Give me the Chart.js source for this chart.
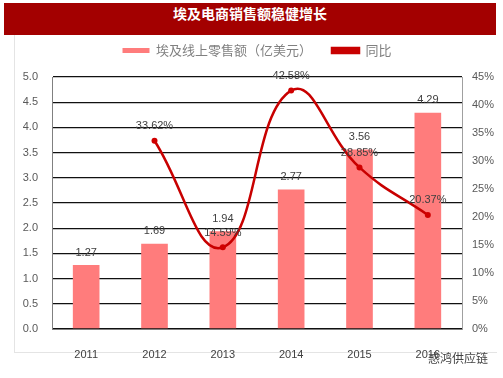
<!DOCTYPE html>
<html>
<head>
<meta charset="utf-8">
<script src="https://cdn.jsdelivr.net/npm/chart.js@4.4.0/dist/chart.umd.min.js"></script>
<style>
    body { margin: 0; background: #fff; }
    #wrap { position: relative; width: 503px; height: 378px; overflow: hidden; }
    #titleBar {
        position: absolute; left: 4px; top: 3px; width: 492px; height: 32px;
        background: #a30000; color: #fff; text-align: center; line-height: 32px;
        font: bold 14px "Noto Sans CJK SC", sans-serif;
    }
    #frame {
        position: absolute; left: 14px; top: 35px; width: 482px; height: 317px;
        border-left: 1px solid #e4e4e4; border-bottom: 1px solid #e4e4e4;
    }
    #mark {
        position: absolute; left: 428px; top: 349px;
        font: 12px "Noto Sans CJK SC", sans-serif; color: #444;
    }
    canvas { position: absolute; left: 0; top: 0; }
</style>
</head>
<body>
<div id="wrap">
    <div id="frame"></div>
    <div id="titleBar">埃及电商销售额稳健增长</div>
    <canvas id="chart" width="503" height="378"></canvas>
    <div id="mark">惑鸿供应链</div>
</div>
<script>
const years = ["2011", "2012", "2013", "2014", "2015", "2016"];
const sales = [1.27, 1.69, 1.94, 2.77, 3.56, 4.29];
const growth = [null, 33.62, 14.59, 42.58, 28.85, 20.37];
const leftTicks = [0, 0.5, 1, 1.5, 2, 2.5, 3, 3.5, 4, 4.5, 5];
const rightTicks = [0, 5, 10, 15, 20, 25, 30, 35, 40, 45];

// 图例和绘图区之间留点空
const spacer = {
    id: "spacer",
    beforeInit(chart) {
        Chart.layouts.addBox(chart, {
            position: "top",
            weight: 0,
            fullSize: true,
            options: {},
            isHorizontal() { return true; },
            update(maxW) {
                this.width = maxW;
                this.height = 10;
                return { width: maxW, height: 10 };
            },
            draw() {}
        });
    }
};

// 数据标签
const valueLabels = {
    id: "valueLabels",
    afterDatasetsDraw(chart) {
        const ctx = chart.ctx;
        ctx.save();
        ctx.font = '11px "Liberation Sans", Arial, sans-serif';
        ctx.fillStyle = "#404040";
        ctx.textAlign = "center";
        ctx.textBaseline = "bottom";
        chart.data.datasets.forEach((ds, i) => {
            const meta = chart.getDatasetMeta(i);
            meta.data.forEach((el, j) => {
                const v = ds.data[j];
                if (v === null) return;
                const txt = ds.type === "line" ? v.toFixed(2) + "%" : v.toFixed(2);
                const off = ds.type === "line" ? 9 : 7;
                ctx.fillText(txt, el.x, el.y - off);
            });
        });
        ctx.restore();
    }
};

const ctx = document.getElementById("chart").getContext("2d");
new Chart(ctx, {
    data: {
        labels: years,
        datasets: [
            {
                type: "line",
                label: "同比",
                data: growth,
                yAxisID: "y1",
                borderColor: "#c80000",
                backgroundColor: "#c80000",
                borderWidth: 2.5,
                pointRadius: 3,
                pointBackgroundColor: "#d00000",
                pointBorderWidth: 0,
                tension: 0.45,
                order: 1
            },
            {
                type: "bar",
                label: "埃及线上零售额（亿美元）",
                data: sales,
                yAxisID: "y",
                backgroundColor: "#ff7c7c",
                categoryPercentage: 1,
                barPercentage: 0.39,
                order: 2
            }
        ]
    },
    options: {
        responsive: false,
        animation: false,
        layout: { padding: { top: 24, left: 0, right: 0, bottom: 0 } },
        plugins: {
            tooltip: { enabled: false },
            legend: {
                position: "top",
                fullSize: false,
                reverse: true,
                labels: {
                    boxWidth: 27,
                    boxHeight: 5,
                    padding: 20,
                    color: "#808080",
                    font: { family: '"Noto Sans CJK SC", sans-serif', size: 13 }
                }
            }
        },
        scales: {
            x: {
                grid: { display: false },
                border: { color: "#808080" },
                ticks: {
                    color: "#404040",
                    padding: 11,
                    font: { family: '"Liberation Sans", Arial, sans-serif', size: 11 }
                },
                afterFit: (s) => { s.height = 49; }
            },
            y: {
                position: "left",
                min: 0,
                max: 5,
                afterBuildTicks: (s) => { s.ticks = leftTicks.map((v) => ({ value: v })); },
                grid: { color: "#111", lineWidth: 1.3, drawTicks: false },
                border: { color: "#808080" },
                ticks: {
                    color: "#595959",
                    padding: 14,
                    font: { family: '"Liberation Sans", Arial, sans-serif', size: 11 },
                    callback: (v) => v.toFixed(1)
                },
                afterFit: (s) => { s.width = 52; }
            },
            y1: {
                position: "right",
                min: 0,
                max: 45,
                afterBuildTicks: (s) => { s.ticks = rightTicks.map((v) => ({ value: v })); },
                grid: { drawOnChartArea: false, drawTicks: false },
                border: { color: "#a0a0a0" },
                ticks: {
                    color: "#595959",
                    padding: 10,
                    font: { family: '"Liberation Sans", Arial, sans-serif', size: 11 },
                    callback: (v) => v + "%"
                },
                afterFit: (s) => { s.width = 41; }
            }
        }
    },
    plugins: [spacer, valueLabels]
});
</script>
</body>
</html>
